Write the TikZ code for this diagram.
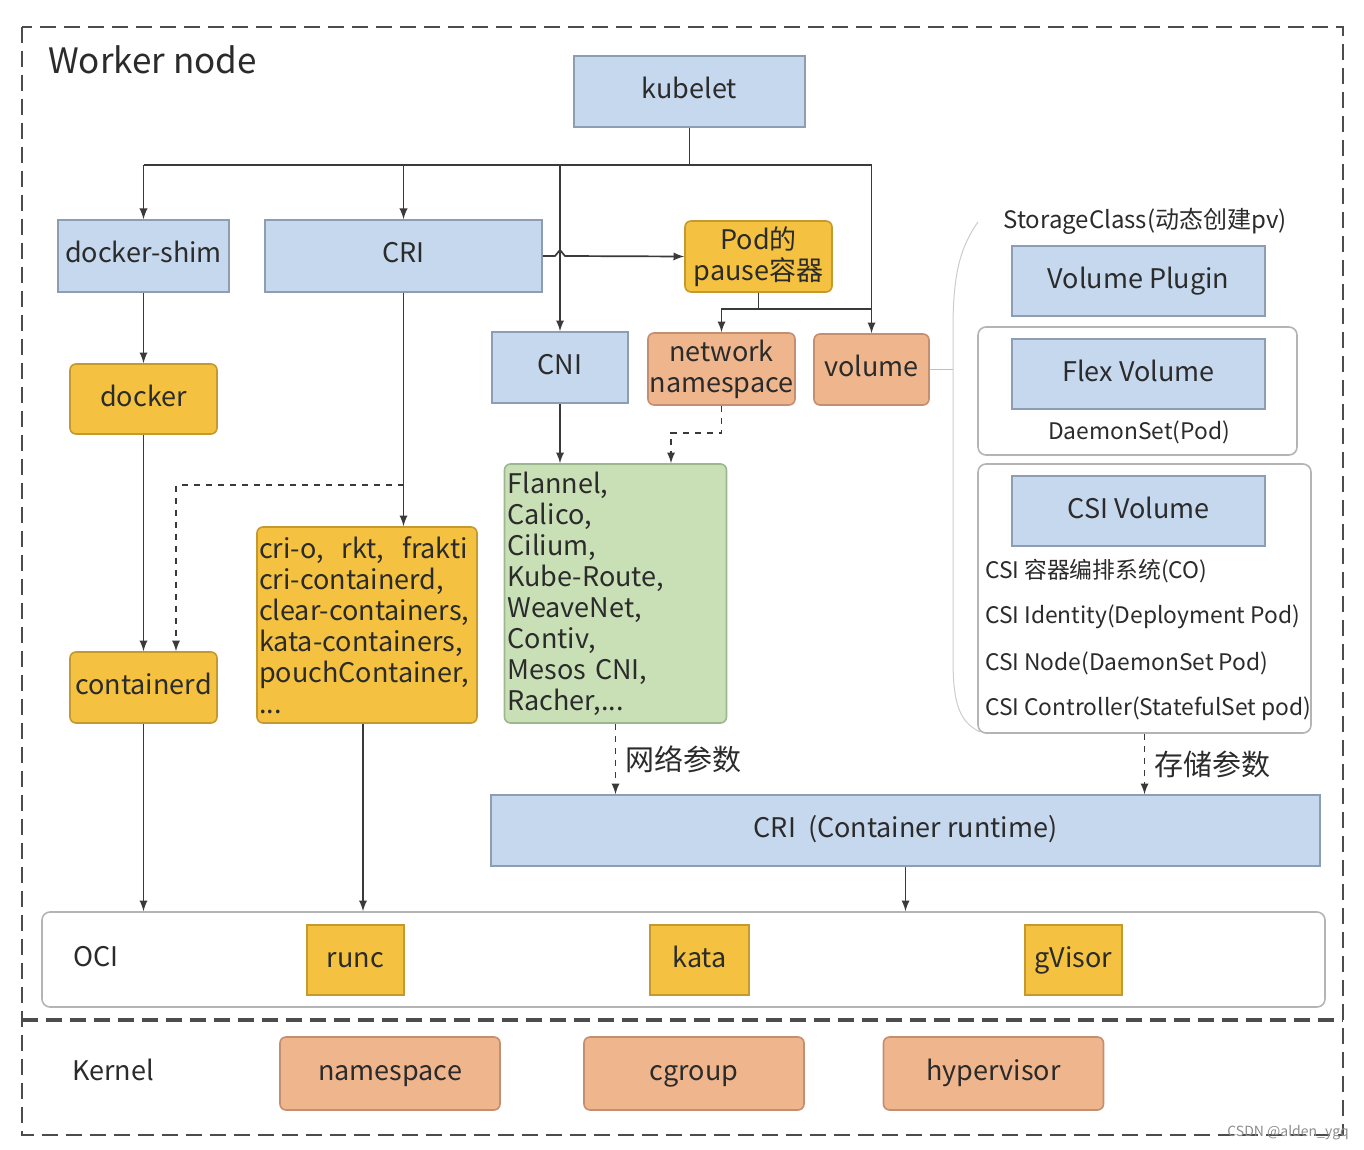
\documentclass[tikz,border=0pt]{standalone}
\usepackage{fontspec}
\setmainfont{Noto Sans CJK SC}
\usepackage{tikz}
\definecolor{boxblue}{HTML}{C6D8EE}
\definecolor{edgeblue}{HTML}{8D9EB4}
\definecolor{boxyellow}{HTML}{F4C240}
\definecolor{edgeyellow}{HTML}{C49A30}
\definecolor{boxsalmon}{HTML}{EFB58C}
\definecolor{edgesalmon}{HTML}{C48F70}
\definecolor{boxgreen}{HTML}{C9E0B7}
\definecolor{edgegreen}{HTML}{9CB68D}
\definecolor{wire}{HTML}{3A3A3A}
\definecolor{ink}{HTML}{2B2B2B}
\definecolor{pale}{HTML}{B4B4B4}

\begin{document}
\begin{tikzpicture}[x=0.5pt,y=-0.5pt,>=latex,
  label font/.style={font=\fontsize{13.5}{15.5}\selectfont,text=ink},
  oneline/.style={text height=10pt,text depth=3pt},
  bluebox/.style={draw=edgeblue,fill=boxblue,line width=0.8pt,inner sep=0pt,label font},
  yellowbox/.style={draw=edgeyellow,fill=boxyellow,line width=0.8pt,rounded corners=3pt,inner sep=0pt,label font},
  salmonbox/.style={draw=edgesalmon,fill=boxsalmon,line width=0.8pt,rounded corners=3pt,inner sep=0pt,label font},
  greenbox/.style={draw=edgegreen,fill=boxgreen,line width=0.8pt,rounded corners=3pt,inner sep=0pt,label font},
  shell/.style={draw=pale,fill=white,line width=0.8pt,rounded corners=4pt,inner sep=0pt},
  wire/.style={draw=wire,line width=0.85pt},
  small/.style={font=\fontsize{11.4}{13}\selectfont,text=ink}]
\useasboundingbox (0,0) rectangle (1364,1150);

% frames
\draw[line width=1.2pt,draw=black!70,dash pattern=on 8pt off 4pt] (22,27) rectangle (1343,1135);
\draw[line width=1.7pt,draw=black!70,dash pattern=on 8pt off 4pt] (22,1020) -- (1343,1020);
\node[anchor=west,font=\fontsize{17.5}{20}\selectfont,text=ink] (title) at (41,60) {Worker node};

% top row
\node[bluebox,oneline,minimum width=115.5pt,minimum height=35.5pt] (kubelet) at (689.5,91.5) {kubelet};
\node[bluebox,oneline,minimum width=85.5pt,minimum height=36pt] (dshim) at (143.5,256) {docker-shim};
\node[bluebox,oneline,minimum width=138.5pt,minimum height=36pt] (cri) at (403.5,256) {CRI};
\node[yellowbox,minimum width=73.5pt,minimum height=35.5pt,align=center] (pause) at (758.5,256.5) {Pod的\\pause容器};
\node[bluebox,oneline,minimum width=68pt,minimum height=35.5pt] (cni) at (560,367.5) {CNI};
\node[salmonbox,minimum width=73.5pt,minimum height=36pt,align=center] (netns) at (721.5,369) {network\\namespace};
\node[salmonbox,oneline,minimum width=57.5pt,minimum height=35.5pt] (volume) at (871.5,369.5) {volume};

% runtimes column
\node[yellowbox,oneline,minimum width=73.5pt,minimum height=35pt] (docker) at (143.5,399) {docker};
\node[yellowbox,oneline,minimum width=73.5pt,minimum height=35.5pt] (containerd) at (143.5,687.5) {containerd};
\node[yellowbox,minimum width=110pt,minimum height=98pt,text width=108pt,align=left,inner xsep=1pt] (runtimes) at (367,625)
  {cri-o,\ \ rkt,\ \ frakti\\cri-containerd,\\clear-containers,\\kata-containers,\\pouchContainer,\\...};
\node[greenbox,minimum width=110.5pt,minimum height=129.5pt,text width=108pt,align=left,inner xsep=1.5pt] (plugins) at (615.5,593.5)
  {Flannel,\\Calico,\\Cilium,\\Kube-Route,\\WeaveNet,\\Contiv,\\Mesos CNI,\\Racher,...};

% storage side
\node[font=\fontsize{12}{14}\selectfont,text=ink] (sclass) at (1145,221) {StorageClass(动态创建pv)};
\node[bluebox,oneline,minimum width=126.5pt,minimum height=35pt] (vplugin) at (1138.5,281) {Volume Plugin};
\node[shell,minimum width=159.5pt,minimum height=64pt] (flexbox) at (1137.5,391) {};
\node[bluebox,oneline,minimum width=126.5pt,minimum height=35pt] (flexvol) at (1138.5,374) {Flex Volume};
\node[small] (dset) at (1139,432) {DaemonSet(Pod)};
\node[shell,minimum width=166.5pt,minimum height=134.5pt] (csibox) at (1144.5,598.5) {};
\node[bluebox,oneline,minimum width=126.5pt,minimum height=35pt] (csivol) at (1138.5,511) {CSI Volume};
\node[small,anchor=west] (csico) at (978,571) {CSI 容器编排系统(CO)};
\node[small,anchor=west] (csiid) at (978,617) {CSI Identity(Deployment Pod)};
\node[small,anchor=west] (csinode) at (978,663) {CSI Node(DaemonSet Pod)};
\node[small,anchor=west] (csictl) at (978,709) {CSI Controller(StatefulSet pod)};
\draw[black!20,line width=0.5pt] (978,222) .. controls (958,250) and (953,280) .. (953,330) -- (953,660)
  .. controls (953,705) and (960,722) .. (980,732);
\draw[black!25,line width=0.5pt] (volume.east) -- (953,369.5);

% lower part
\node[bluebox,oneline,minimum width=414.5pt,minimum height=35.5pt] (crirt) at (905.5,830.5) {CRI\ \ (Container runtime)};
\node[shell,minimum width=641.5pt,minimum height=47.5pt] (oci) at (683.5,959.5) {};
\node[label font,oneline,anchor=west] (ocitext) at (66,959.5) {OCI};
\node[yellowbox,oneline,rounded corners=0pt,minimum width=48.5pt,minimum height=35pt] (runc) at (355.5,960) {runc};
\node[yellowbox,oneline,rounded corners=0pt,minimum width=49.5pt,minimum height=35pt] (kata) at (699.5,960) {kata};
\node[yellowbox,oneline,rounded corners=0pt,minimum width=48.5pt,minimum height=35pt] (gvisor) at (1073.5,960) {gVisor};
\node[label font,oneline,anchor=west] (kernel) at (65,1073.5) {Kernel};
\node[salmonbox,oneline,minimum width=110pt,minimum height=36.5pt] (nspace) at (390,1073.5) {namespace};
\node[salmonbox,oneline,minimum width=110pt,minimum height=36.5pt] (cgroup) at (694,1073.5) {cgroup};
\node[salmonbox,oneline,minimum width=110pt,minimum height=36.5pt] (hyper) at (993.5,1073.5) {hypervisor};
\node[font=\fontsize{7}{8}\selectfont,text=black!45] (mark) at (1288,1133) {CSDN @alden\_ygq};

% kubelet fan out
\coordinate (bus) at (689.5,165);
\draw[wire] (kubelet.south) -- (bus);
\draw[wire] (dshim.north |- bus) -- (volume.north |- bus);
\draw[wire,->] (dshim.north |- bus) -- (dshim.north);
\draw[wire,->] (cri.north |- bus) -- (cri.north);
\draw[wire,->] (cni.north |- bus) -- (cni.north);
\draw[wire,->] (volume.north |- bus) -- (volume.north);
\draw[wire,->] (cri.east) -- (555,256) -- (560,250) -- (565,256) -- (pause.west);
\coordinate (split) at (758.5,309);
\draw[wire] (pause.south) -- (split) -- (volume.north |- split);
\draw[wire,->] (split) -| (netns.north);

% down the columns
\draw[wire,->] (dshim.south) -- (docker.north);
\draw[wire,->] (docker.south) -- (containerd.north);
\draw[wire,->] (cri.south) -- (cri.south |- runtimes.north);
\coordinate (tap) at (403.5,485);
\draw[wire,dashed,->] (tap) -| ([xshift=16.25pt]containerd.north);
\draw[wire,->] (cni.south) -- (cni.south |- plugins.north);
\draw[wire,dashed,->] (netns.south) -- ++(0,27) -| ([xshift=27.75pt]plugins.north);
\draw[wire,dashed,->] (plugins.south) -- (plugins.south |- crirt.north)
  node[midway,right,font=\fontsize{14.5}{16}\selectfont,text=ink,xshift=1pt] {网络参数};
\draw[wire,dashed,->] (csibox.south) -- (csibox.south |- crirt.north)
  node[midway,right,font=\fontsize{14.5}{16}\selectfont,text=ink,xshift=1pt] {存储参数};
\draw[wire,->] (containerd.south) -- (containerd.south |- oci.north);
\draw[wire,->] ([xshift=-2pt]runtimes.south) -- ([xshift=-2pt]runtimes.south |- oci.north);
\draw[wire,->] (crirt.south) -- (crirt.south |- oci.north);
\end{tikzpicture}
\end{document}
